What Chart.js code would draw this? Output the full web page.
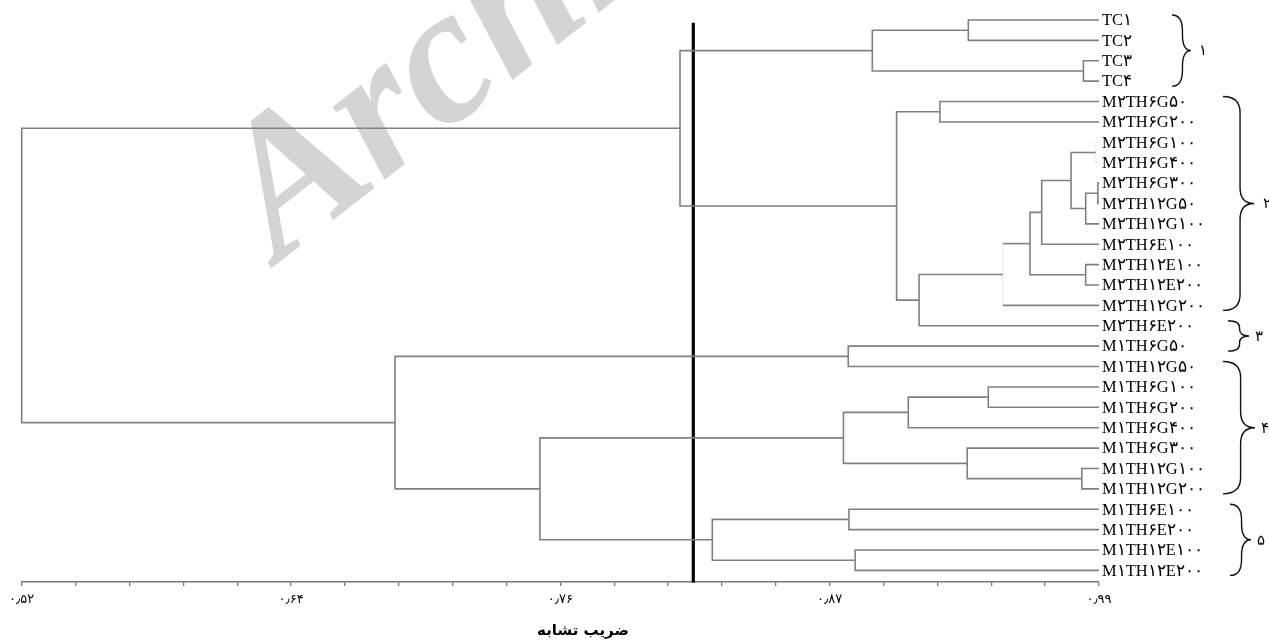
<!DOCTYPE html>
<html>
<head>
<meta charset="utf-8">
<script src="https://cdn.jsdelivr.net/npm/chart.js@4.4.0/dist/chart.umd.min.js"></script>
<style>
  html, body { margin: 0; padding: 0; background: #ffffff; }
  #wrap { position: relative; width: 1269px; height: 644px; }
</style>
</head>
<body>
<div id="wrap"><canvas id="dendro" width="1269" height="644"></canvas></div>
<script>
// Leaves, top to bottom
const leafLabels = [
  'TC۱', 'TC۲', 'TC۳', 'TC۴',
  'M۲TH۶G۵۰', 'M۲TH۶G۲۰۰', 'M۲TH۶G۱۰۰', 'M۲TH۶G۴۰۰', 'M۲TH۶G۳۰۰',
  'M۲TH۱۲G۵۰', 'M۲TH۱۲G۱۰۰', 'M۲TH۶E۱۰۰', 'M۲TH۱۲E۱۰۰', 'M۲TH۱۲E۲۰۰',
  'M۲TH۱۲G۲۰۰', 'M۲TH۶E۲۰۰', 'M۱TH۶G۵۰', 'M۱TH۱۲G۵۰', 'M۱TH۶G۱۰۰',
  'M۱TH۶G۲۰۰', 'M۱TH۶G۴۰۰', 'M۱TH۶G۳۰۰', 'M۱TH۱۲G۱۰۰', 'M۱TH۱۲G۲۰۰',
  'M۱TH۶E۱۰۰', 'M۱TH۶E۲۰۰', 'M۱TH۱۲E۱۰۰', 'M۱TH۱۲E۲۰۰'
];
const leafSim = 0.99;

// Agglomeration steps: node ids 0..27 are leaves, each step creates node 28 + k
const mergeA = [6, 8, 29, 28, 31, 12, 32, 34, 35, 4, 37, 0, 2, 39, 41, 16, 18, 44, 22, 21, 45, 24, 26, 49, 48, 43, 42];
const mergeB = [7, 9, 10, 30, 11, 13, 33, 14, 15, 5, 36, 1, 3, 40, 38, 17, 19, 20, 23, 46, 47, 25, 27, 50, 51, 52, 53];
const mergeSim = [0.9885, 0.9895, 0.9842, 0.9778, 0.9650, 0.9842, 0.9599, 0.9481, 0.9115, 0.9206,
                  0.9017, 0.9330, 0.9832, 0.8911, 0.8072, 0.8806, 0.9417, 0.9068, 0.9825, 0.9325,
                  0.8785, 0.8809, 0.8836, 0.8213, 0.7461, 0.6829, 0.5200];

// Similarity cut-off line
const cutSim = 0.813;

// Axis ticks
const majorTickValues = [0.52, 0.6375, 0.755, 0.8725, 0.99];
const majorTickLabels = ['۰٫۵۲', '۰٫۶۴', '۰٫۷۶', '۰٫۸۷', '۰٫۹۹'];
const minorPerMajor = 5;
const axisTitle = 'ضریب تشابه';

// Bracketed groups
const groupFirst = [0, 4, 15, 17, 24];
const groupLast = [3, 14, 16, 23, 27];
const groupNames = ['۱', '۲', '۳', '۴', '۵'];

// ---- build the link geometry from the merge table ----
const nodeY = leafLabels.map((_, i) => i);
const nodeSim = leafLabels.map(() => leafSim);
const lineColor = '#808080';
const faintColor = 'rgba(128,128,128,0.12)';
const faintMerges = [0, 7];   // joins that are barely drawn

const datasets = [];
mergeA.forEach((a, k) => {
  const b = mergeB[k];
  const h = mergeSim[k];
  const ya = nodeY[a], yb = nodeY[b];
  nodeY.push((ya + yb) / 2);
  nodeSim.push(h);
  const faint = faintMerges.indexOf(k);
  datasets.push({
    data: [{ x: nodeSim[a], y: ya }, { x: h, y: ya }, { x: h, y: yb }, { x: nodeSim[b], y: yb }],
    borderColor: lineColor,
    borderWidth: 1.6,
    pointRadius: 0,
    showLine: true,
    fill: false,
    tension: 0,
    clip: false,
    segment: {
      borderColor: ctx => {
        if (faint === 0) return faintColor;                       // leaf pair drawn as one stub
        if (faint === 1 && ctx.p0DataIndex === 1) return faintColor;
        return lineColor;
      }
    }
  });
});

// cut-off line
datasets.push({
  data: [{ x: cutSim, y: 0.13 }, { x: cutSim, y: 27.6 }],
  borderColor: '#000000',
  borderWidth: 3.2,
  pointRadius: 0,
  showLine: true,
  clip: false
});

const allTicks = [];
for (let m = 0; m < majorTickValues.length - 1; m++) {
  const step = (majorTickValues[m + 1] - majorTickValues[m]) / minorPerMajor;
  for (let s = 0; s < minorPerMajor; s++) allTicks.push(majorTickValues[m] + s * step);
}
allTicks.push(majorTickValues[majorTickValues.length - 1]);

// ---- drawing helpers ----
function drawBrace(ctx, x0, yTop, yBot, w) {
  const xs = x0 + w * 0.55;
  const xt = x0 + w;
  const ym = (yTop + yBot) / 2;
  const r = Math.min(16, (ym - yTop) / 2.2);
  ctx.beginPath();
  ctx.moveTo(x0, yTop);
  ctx.quadraticCurveTo(xs, yTop, xs, yTop + r);
  ctx.lineTo(xs, ym - r);
  ctx.quadraticCurveTo(xs, ym, xt, ym);
  ctx.quadraticCurveTo(xs, ym, xs, ym + r);
  ctx.lineTo(xs, yBot - r);
  ctx.quadraticCurveTo(xs, yBot, x0, yBot);
  ctx.stroke();
}

const watermark = {
  id: 'watermark',
  beforeDatasetsDraw(chart) {
    const ctx = chart.ctx;
    ctx.save();
    ctx.translate(300, 182);
    ctx.rotate(-38 * Math.PI / 180);
    ctx.font = 'italic bold 195px "Liberation Serif"';
    ctx.fillStyle = '#d4d4d6';
    ctx.textAlign = 'left';
    ctx.textBaseline = 'middle';
    ctx.fillText('Archive', -66, 0);
    ctx.restore();
  }
};

const annotations = {
  id: 'annotations',
  afterDatasetsDraw(chart) {
    const ctx = chart.ctx;
    const xs = chart.scales.x, ys = chart.scales.y;
    ctx.save();
    // leaf labels
    ctx.fillStyle = '#000000';
    ctx.font = '16.5px "Liberation Serif", "DejaVu Serif", serif';
    ctx.textAlign = 'left';
    ctx.textBaseline = 'middle';
    const lx = xs.getPixelForValue(leafSim) + 3;
    leafLabels.forEach((t, i) => ctx.fillText(t, lx, ys.getPixelForValue(i) + 1));

    // group braces and numbers
    const braceX = [1172, 1223, 1228, 1223, 1230];
    const braceW = [19, 31, 21, 32, 21];
    const nameX = [1203, 1267, 1259, 1265, 1261];
    ctx.strokeStyle = '#111111';
    ctx.lineWidth = 1.4;
    ctx.font = '15px "DejaVu Sans", sans-serif';
    ctx.textAlign = 'center';
    groupFirst.forEach((f, g) => {
      const yTop = ys.getPixelForValue(groupFirst[g]) - 5;
      const yBot = ys.getPixelForValue(groupLast[g]) + 5;
      drawBrace(ctx, braceX[g], yTop, yBot, braceW[g]);
      ctx.fillText(groupNames[g], nameX[g], (yTop + yBot) / 2 + 1);
    });

    // axis title
    ctx.font = 'bold 15px "DejaVu Sans", sans-serif';
    ctx.fillText(axisTitle, 583, 631);
    ctx.restore();
  }
};

new Chart(document.getElementById('dendro'), {
  type: 'scatter',
  data: { datasets },
  options: {
    responsive: false,
    animation: false,
    events: [],
    layout: { padding: { left: 21.7, right: 170, top: 0, bottom: 0 } },
    plugins: { legend: { display: false }, tooltip: { enabled: false } },
    scales: {
      x: {
        type: 'linear',
        min: majorTickValues[0],
        max: majorTickValues[majorTickValues.length - 1],
        afterBuildTicks: s => { s.ticks = allTicks.map(v => ({ value: v })); },
        afterFit: s => { s.height = 62; },
        grid: { drawOnChartArea: false, drawTicks: true, tickLength: 4, color: '#777777', lineWidth: 1.3 },
        border: { display: true, color: '#777777', width: 1.6 },
        ticks: {
          autoSkip: false,
          maxRotation: 0,
          padding: 6,
          color: '#000000',
          font: { family: '"DejaVu Sans", sans-serif', size: 13 },
          callback: (v, i) => (i % minorPerMajor === 0 ? majorTickLabels[i / minorPerMajor] : '')
        }
      },
      y: {
        type: 'linear',
        reverse: true,
        min: -0.982,
        max: 27.57,
        display: false
      }
    }
  },
  plugins: [watermark, annotations]
});
</script>
</body>
</html>
